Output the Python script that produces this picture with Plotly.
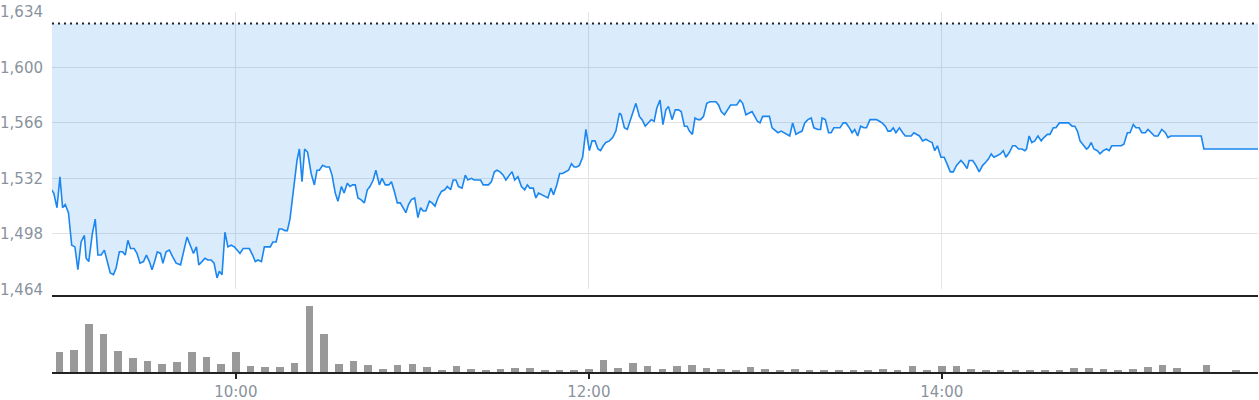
import pandas as pd
import plotly.graph_objects as go

# ---------------- data ----------------
session_day = "2024-01-02"
prev_close = 1627

# price vertices: minutes after 09:00 and price
price_minutes = [
    -2.7, -1.9, -0.8, 0.2, 1.1, 2.0, 3.1, 4.2, 5.3, 6.3, 7.4, 8.5, 9.1, 10.0, 11.2, 12.2, 13.1, 14.2, 15.3, 16.3,
    17.3, 18.4, 19.3, 20.4, 21.5, 22.4, 23.3, 24.2, 25.4, 26.4, 27.4, 28.6, 29.6, 30.6, 31.5, 32.4, 33.3, 34.4, 35.2, 36.3,
    37.4, 38.5, 39.7, 41.2, 42.4, 43.4, 44.5, 45.6, 46.6, 47.4, 48.5, 49.5, 50.5, 51.6, 52.6, 53.6, 54.4, 55.3, 56.3, 57.3,
    58.4, 59.5, 60.5, 61.4, 62.5, 64.6, 65.7, 66.6, 67.5, 68.7, 69.7, 71.7, 72.6, 73.7, 74.7, 75.7, 76.7, 77.5, 78.4, 79.3,
    80.1, 80.8, 81.6, 82.5, 83.4, 84.4, 85.6, 86.7, 87.6, 88.4,
    89.5, 90.7, 91.8, 92.7, 93.8, 94.7, 95.9, 96.8, 97.9, 98.8, 99.7, 100.6, 101.5, 102.5, 103.7, 104.7, 105.6, 106.7, 107.6, 108.8,
    109.7, 110.8, 112.0, 112.9, 113.9, 114.9, 115.9, 116.9, 117.8, 118.7, 119.7, 120.8, 121.9, 122.8, 123.7, 124.6, 125.8, 126.7, 127.7, 128.7,
    129.9, 131.0, 131.9, 133.0, 133.9, 134.8, 135.7, 136.9, 138.0, 138.9, 140.1, 141.0, 142.1, 143.2, 144.1, 145.0, 145.9, 146.9, 147.9, 148.8,
    149.8, 150.9, 151.8, 153.0, 153.9, 154.8, 155.9, 157.1, 158.2, 159.1, 160.0, 161.1, 162.0, 162.9, 164.1, 165.2, 166.1, 167.1, 168.0, 169.1,
    170.1, 171.1, 172.2, 173.1, 174.1, 175.0, 175.9, 176.8, 177.9, 179.0, 180.2, 181.1, 182.1, 183.1, 184.0, 184.9, 185.8, 187.0, 188.1, 189.2,
    190.4,
    191.0, 192.1, 193.1, 194.0, 195.0, 196.0, 197.2, 198.1, 199.2, 200.3, 201.2, 202.2, 203.1, 204.2, 205.2, 206.2, 207.1, 208.3, 209.4, 210.5,
    211.4, 212.5, 213.4, 214.2, 215.2, 216.1, 217.1, 218.0, 219.0, 220.1, 221.2, 222.3, 223.2, 224.1, 225.0, 226.1, 227.1, 228.2, 229.1, 230.3,
    231.4, 232.3, 233.4, 234.3, 235.5, 236.4, 237.3, 238.2, 239.1, 240.2, 241.4, 242.3, 243.4, 244.3, 245.4, 246.3, 247.3, 248.3, 249.3, 250.4,
    251.3, 252.5, 253.4, 254.5, 255.6, 256.5, 257.9, 258.8, 259.3, 260.4, 261.5, 262.4, 263.3, 264.5, 265.4, 266.5, 267.4, 268.6, 269.5, 270.4,
    271.4, 272.4, 273.5, 274.4, 275.6, 276.7, 277.8, 278.8, 279.7, 280.8, 281.7, 282.6, 283.5, 284.4, 285.6, 286.7, 287.6, 288.5, 289.6, 290.5,
    291.4, 292.4, 293.5, 294.6, 295.5, 296.7, 297.6, 298.5,
    299.7, 300.8, 302.0, 302.9, 303.9, 305.0, 306.5, 307.5, 308.6, 309.3, 310.5, 311.6, 312.7, 313.9, 315.0, 315.9, 316.8, 317.7, 318.9, 319.9,
    320.9, 321.8, 323.0, 324.1, 325.0, 326.1, 327.3, 328.2, 328.8, 329.7, 330.6, 331.6, 332.7, 333.8, 334.7, 335.9, 336.8, 337.9, 338.8, 340.0,
    340.9, 342.2, 343.1, 344.3, 345.2, 346.1, 347.0, 347.9, 349.2, 349.9, 350.8, 351.7, 352.9, 353.8, 354.9, 356.0, 356.9, 357.8, 359.9, 361.0,
    361.9, 363.1, 364.0, 365.1, 366.0, 367.1, 368.0, 369.2, 370.1, 371.2, 372.3, 373.5, 374.8, 376.0, 376.9, 377.8, 388.2, 389.1, 407.5,
]
price_values = [
    1525, 1523, 1514, 1533, 1514, 1516, 1511, 1491, 1490, 1476, 1493, 1497, 1483, 1481, 1498, 1507, 1485, 1485, 1488, 1480,
    1474, 1473, 1477, 1487, 1487, 1485, 1494, 1489, 1489, 1486, 1480, 1481, 1485, 1481, 1476, 1481, 1487, 1486, 1480, 1487,
    1488, 1484, 1480, 1479, 1489, 1496, 1491, 1486, 1490, 1479, 1481, 1483, 1482, 1482, 1480, 1471, 1475, 1473, 1499, 1490,
    1491, 1490, 1488, 1486, 1489, 1489, 1485, 1481, 1482, 1481, 1490, 1490, 1493, 1493, 1501, 1501, 1500, 1500, 1507, 1521,
    1535, 1543, 1550, 1530, 1550, 1548, 1535, 1528, 1537, 1537,
    1540, 1539, 1539, 1534, 1523, 1518, 1527, 1523, 1529, 1527, 1528, 1528, 1520, 1519, 1517, 1525, 1527, 1531, 1537, 1528,
    1532, 1528, 1528, 1530, 1524, 1517, 1517, 1514, 1511, 1516, 1519, 1520, 1508, 1514, 1512, 1512, 1518, 1517, 1515, 1520,
    1524, 1525, 1527, 1525, 1531, 1531, 1527, 1526, 1534, 1531, 1532, 1531, 1531, 1531, 1528, 1528, 1528, 1530, 1536, 1537,
    1536, 1534, 1531, 1534, 1536, 1531, 1533, 1527, 1525, 1528, 1526, 1526, 1520, 1523, 1522, 1521, 1520, 1526, 1522, 1528,
    1535, 1535, 1536, 1537, 1541, 1539, 1539, 1540, 1545, 1562, 1549, 1555, 1555, 1550, 1549, 1552, 1554, 1555, 1557, 1561,
    1572,
    1571, 1563, 1562, 1567, 1573, 1578, 1570, 1568, 1564, 1566, 1568, 1567, 1575, 1580, 1565, 1574, 1576, 1568, 1574, 1574,
    1573, 1564, 1564, 1561, 1559, 1569, 1568, 1568, 1570, 1578, 1579, 1579, 1579, 1577, 1573, 1571, 1574, 1577, 1577, 1577,
    1580, 1578, 1571, 1572, 1573, 1570, 1567, 1566, 1570, 1570, 1570, 1563, 1561, 1560, 1561, 1560, 1559, 1558, 1566, 1559,
    1560, 1561, 1566, 1568, 1569, 1563, 1562, 1562, 1569, 1568, 1560, 1560, 1563, 1563, 1563, 1566, 1566, 1563, 1560, 1562,
    1558, 1564, 1563, 1563, 1568, 1568, 1568, 1567, 1566, 1564, 1561, 1561, 1563, 1560, 1563, 1560, 1558, 1558, 1558, 1560,
    1559, 1558, 1555, 1556, 1555, 1554, 1549, 1552,
    1545, 1545, 1540, 1536, 1536, 1540, 1543, 1541, 1538, 1543, 1543, 1540, 1536, 1540, 1542, 1544, 1547, 1545, 1546, 1547,
    1549, 1545, 1548, 1552, 1552, 1550, 1550, 1549, 1550, 1558, 1554, 1555, 1558, 1555, 1557, 1559, 1559, 1563, 1563, 1566,
    1566, 1566, 1566, 1564, 1564, 1561, 1555, 1553, 1550, 1551, 1554, 1550, 1549, 1547, 1549, 1550, 1549, 1552, 1552, 1552,
    1553, 1560, 1560, 1565, 1563, 1563, 1560, 1560, 1562, 1560, 1558, 1558, 1562, 1560, 1557, 1558, 1558, 1550, 1550,
]

# 5-minute volume bars (thousand shares), starting 09:00
volume_start = "09:00"
volume_values = [
    58, 66, 142, 112, 61, 43, 33, 25, 31, 58, 45, 25,      # 09:00-09:55
    58, 18, 15, 15, 28, 195, 112, 24, 33, 21, 9, 21,       # 10:00-10:55
    24, 15, 6, 18, 9, 6, 9, 12, 12, 6, 3, 6,               # 11:00-11:55
    9, 36, 12, 28, 18, 9, 18, 21, 12, 9, 6, 15,            # 12:00-12:55
    9, 6, 9, 3, 6, 6, 6, 6, 9, 3, 18, 6,                   # 13:00-13:55
    18, 18, 9, 6, 3, 3, 3, 6, 6, 12, 12, 9,                # 14:00-14:55
    6, 9, 15, 21, 12, 0, 21, 0, 3,                         # 15:00-15:40
]

x_range = ["08:57:30", "15:47:30"]
x_tick_every_hours = 2
x_first_tick = "10:00"
y_min, y_max, y_step = 1464, 1634, 34
vol_max = 223

# ---------------- build ----------------
t0 = pd.Timestamp(f"{session_day} 09:00")
price_times = [t0 + pd.Timedelta(minutes=m) for m in price_minutes]
vstart = pd.Timestamp(f"{session_day} {volume_start}")
vol_times = [vstart + pd.Timedelta(minutes=5 * i) for i in range(len(volume_values))]
xr = [f"{session_day} {x_range[0]}", f"{session_day} {x_range[1]}"]

FONT = "DejaVu Sans"
TICK_COLOR = "#8a939d"
LINE_BLUE = "#1a86f0"

fig = go.Figure()

# invisible base at previous close for the fill
fig.add_trace(go.Scatter(
    x=xr, y=[prev_close, prev_close], mode="lines",
    line=dict(width=0, color="rgba(0,0,0,0)"),
    hoverinfo="skip", showlegend=False, xaxis="x", yaxis="y",
))
fig.add_trace(go.Scatter(
    x=price_times, y=price_values, mode="lines",
    line=dict(color=LINE_BLUE, width=1.6),
    fill="tonexty", fillcolor="rgba(33,136,240,0.17)",
    showlegend=False, xaxis="x", yaxis="y",
))
fig.add_trace(go.Bar(
    x=vol_times, y=volume_values, width=5 * 60 * 1000 * 0.52,
    marker=dict(color="#999999", line=dict(width=0)),
    showlegend=False, xaxis="x2", yaxis="y2",
))

fig.add_shape(
    type="line", xref="x", yref="y", x0=xr[0], x1=xr[1], y0=prev_close, y1=prev_close,
    line=dict(color="#222222", width=2, dash="2px,4px"), layer="above",
)

tick0 = f"{session_day} {x_first_tick}"
dtick = x_tick_every_hours * 3600 * 1000

fig.update_layout(
    width=1259, height=400,
    margin=dict(l=52, r=1, t=12, b=28, autoexpand=False),
    paper_bgcolor="white", plot_bgcolor="white",
    font=dict(family=FONT, size=15, color=TICK_COLOR),
    bargap=0,
    xaxis=dict(
        type="date", range=xr, domain=[0, 1], anchor="y", automargin=False,
        tick0=tick0, dtick=dtick, showticklabels=False,
        showgrid=True, gridcolor="#e2e4e8", gridwidth=1,
        zeroline=False, showline=False, ticks="",
    ),
    yaxis=dict(
        domain=[0.2297, 1], range=[y_min, y_max], tick0=y_min, dtick=y_step,
        automargin=False,
        tickformat=",d", showgrid=True, gridcolor="#e2e2e2", gridwidth=1,
        zeroline=False, showline=False, ticks="outside", ticklen=5,
        tickcolor="rgba(0,0,0,0)", tickfont=dict(family=FONT, size=15, color=TICK_COLOR),
    ),
    xaxis2=dict(
        type="date", range=xr, domain=[0, 1], anchor="y2", matches="x",
        automargin=False,
        tick0=tick0, dtick=dtick, tickformat="%H:%M",
        showgrid=False, zeroline=False,
        showline=True, linecolor="#222222", linewidth=2, mirror=True,
        ticks="outside", ticklen=5, tickwidth=2, tickcolor="#222222",
        tickfont=dict(family=FONT, size=15, color=TICK_COLOR),
    ),
    yaxis2=dict(
        domain=[0, 0.2083], range=[0, vol_max], showgrid=False, zeroline=False,
        automargin=False,
        showline=False, showticklabels=False, ticks="",
    ),
)

fig.write_html(
    "out.html",
    config={"displayModeBar": False},
    post_script="document.body.style.margin='0';document.body.style.padding='0';",
)
